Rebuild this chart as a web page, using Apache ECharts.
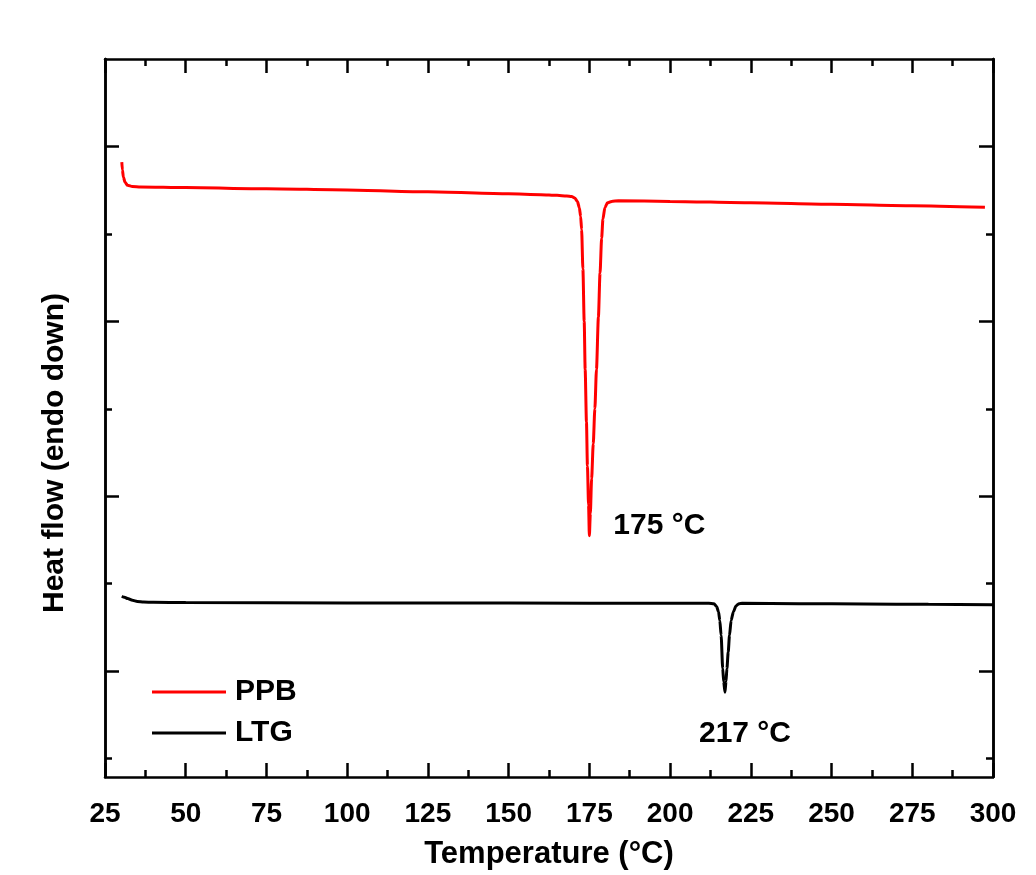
<!DOCTYPE html>
<html>
<head>
<meta charset="utf-8">
<style>
  html, body { margin: 0; padding: 0; background: #ffffff; }
  #chart { width: 1036px; height: 875px; }
</style>
<script src="https://cdn.jsdelivr.net/npm/echarts@6/dist/echarts.min.js"></script>
</head>
<body>
<div id="chart"></div>
<script>
// DSC traces: [temperature (°C), heat flow (arb. units, endo down)]
const seriesNames = ['PPB', 'LTG'];
const seriesColors = ['#ff0000', '#000000'];

const ppbCurve = [
  [30.2, 7.82], [30.4, 7.73], [30.7, 7.65], [31.2, 7.59], [32.0, 7.555], [33.5, 7.542],
  [36, 7.537], [50, 7.530], [75, 7.516], [100, 7.503], [125, 7.481], [150, 7.458],
  [160, 7.449], [165, 7.441], [168, 7.434], [169.5, 7.428], [170.5, 7.41], [171.3, 7.37],
  [171.9, 7.30], [172.3, 7.20], [172.6, 7.05], [173.0, 6.60], [173.4, 6.00], [173.7, 5.45],
  [174.1, 4.85], [174.4, 4.35], [174.75, 3.90], [175.0, 3.55], [175.3, 3.80], [175.7, 4.20],
  [176.2, 4.60], [176.7, 5.00], [177.2, 5.45], [177.8, 6.05], [178.3, 6.55], [178.8, 6.95],
  [179.2, 7.17], [179.8, 7.30], [180.6, 7.355], [181.9, 7.372], [184, 7.378], [200, 7.372],
  [225, 7.356], [250, 7.338], [275, 7.322], [297.5, 7.304]
];

const ltgCurve = [
  [30.2, 2.857], [31, 2.845], [32, 2.83], [33.5, 2.81], [35, 2.798], [37, 2.79],
  [40, 2.787], [50, 2.784], [100, 2.781], [150, 2.779], [200, 2.777], [212, 2.776],
  [213.6, 2.770], [214.4, 2.74], [215.0, 2.68], [215.4, 2.58], [215.8, 2.41], [216.3, 2.03],
  [216.6, 1.88], [217.0, 1.76], [217.3, 1.88], [217.6, 2.03], [218.0, 2.22], [218.4, 2.41],
  [218.9, 2.58], [219.6, 2.68], [220.4, 2.745], [221.3, 2.772], [222.3, 2.777], [240, 2.772],
  [260, 2.768], [280, 2.764], [300, 2.760]
];

// melting peaks: [temperature, heat flow at the minimum]
const peakTemps = [175, 217];
const peakFlows = [3.55, 1.76];

// axis settings
const xMin = 25, xMax = 300, xStep = 25;
const yMin = 0.79, yMax = 9;
const yMajorTicks = [2, 4, 6, 8];
const yMinorTicks = [1, 3, 5, 7];
const xTitle = 'Temperature (°C)';
const yTitle = 'Heat flow (endo down)';

const FONT = '"Liberation Sans", Arial, sans-serif';
const AXIS_W = 2.5;

const chart = echarts.init(document.getElementById('chart'), null, { renderer: 'canvas' });

function xAxisDef(pos, showLabels) {
  return {
    type: 'value', position: pos, min: xMin, max: xMax, interval: xStep,
    name: showLabels ? xTitle : '',
    nameLocation: 'middle', nameGap: 62,
    nameTextStyle: { fontFamily: FONT, fontSize: 31, fontWeight: 'bold', color: '#000' },
    axisLine: { show: true, onZero: false, lineStyle: { color: '#000', width: AXIS_W } },
    axisTick: { show: true, inside: true, length: 14, lineStyle: { color: '#000', width: AXIS_W } },
    minorTick: { show: true, splitNumber: 2, length: 7, lineStyle: { color: '#000', width: AXIS_W } },
    axisLabel: { show: showLabels, margin: 23, fontFamily: FONT, fontSize: 28, fontWeight: 'bold', color: '#000' },
    splitLine: { show: false }
  };
}

function yAxisDef(pos, ticks, len) {
  return {
    type: 'value', position: pos, offset: 0, min: yMin, max: yMax,
    axisLine: { show: true, onZero: false, lineStyle: { color: '#000', width: AXIS_W } },
    axisTick: { show: true, inside: true, length: len, customValues: ticks, lineStyle: { color: '#000', width: AXIS_W } },
    axisLabel: { show: false },
    splitLine: { show: false }
  };
}

function peakMark(i, offset) {
  return {
    symbol: 'circle', symbolSize: 0,
    label: {
      show: true, position: 'inside', offset: offset,
      fontFamily: FONT, fontSize: 30, fontWeight: 'bold', color: '#000',
      formatter: peakTemps[i] + ' °C'
    },
    data: [{ coord: [peakTemps[i], peakFlows[i]] }]
  };
}

chart.setOption({
  animation: false,
  backgroundColor: '#ffffff',
  grid: { left: 105, right: 43, top: 59, bottom: 96, containLabel: false },
  legend: {
    orient: 'vertical', left: 152, top: 677, padding: 0,
    icon: 'rect', itemWidth: 74, itemHeight: 3, itemGap: 11,
    textStyle: { fontFamily: FONT, fontSize: 30, fontWeight: 'bold', color: '#000', lineHeight: 30, padding: [0, 0, 0, 4] },
    data: seriesNames
  },
  xAxis: [xAxisDef('bottom', true), xAxisDef('top', false)],
  yAxis: [
    yAxisDef('left', yMajorTicks, 14),
    yAxisDef('left', yMinorTicks, 7),
    yAxisDef('right', yMajorTicks, 14),
    yAxisDef('right', yMinorTicks, 7)
  ],
  graphic: [{
    type: 'text', x: 55, y: 453, rotation: Math.PI / 2,
    style: {
      text: yTitle, fill: '#000', align: 'center', verticalAlign: 'middle',
      font: 'bold 30px ' + FONT
    }
  }],
  series: [
    {
      name: seriesNames[0], type: 'line', data: ppbCurve, xAxisIndex: 0, yAxisIndex: 0,
      showSymbol: false, symbol: 'none', smooth: 0.25, smoothMonotone: 'x',
      lineStyle: { color: seriesColors[0], width: 3 }, itemStyle: { color: seriesColors[0] },
      markPoint: peakMark(0, [70, -10])
    },
    {
      name: seriesNames[1], type: 'line', data: ltgCurve, xAxisIndex: 0, yAxisIndex: 0,
      showSymbol: false, symbol: 'none', smooth: 0.25, smoothMonotone: 'x',
      lineStyle: { color: seriesColors[1], width: 3 }, itemStyle: { color: seriesColors[1] },
      markPoint: peakMark(1, [20, 42])
    }
  ]
});
</script>
</body>
</html>
